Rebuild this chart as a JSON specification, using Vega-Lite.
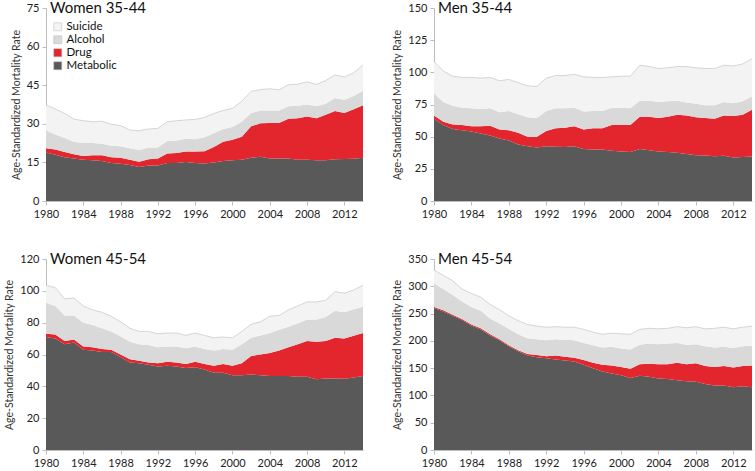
{
  "$schema": "https://vega.github.io/schema/vega-lite/v6.json",
  "background": "white",
  "padding": {"left": 4, "top": 1, "right": 0, "bottom": 0},
  "config": {
    "font": "Lato",
    "view": {"stroke": null},
    "axis": {"grid": false, "domainColor": "#bdbdbd", "tickColor": "#bdbdbd", "tickSize": 4, "labelFontSize": 11, "labelColor": "#222", "labelPadding": 3, "labelOverlap": false, "labelFlush": false, "titleFontSize": 10.5, "titleFontWeight": "normal", "titleColor": "#333", "titlePadding": 5},
    "text": {"font": "Lato", "fontSize": 15, "color": "#111", "align": "left", "baseline": "middle", "dx": 4}
  },
  "datasets": {
    "causes": [
      {"cause": "Metabolic", "rank": 1},
      {"cause": "Drug", "rank": 2},
      {"cause": "Alcohol", "rank": 3},
      {"cause": "Suicide", "rank": 4}
    ],
    "rates": [
      {"p":"W35","year":1980,"Metabolic":18.8,"Drug":1.7,"Alcohol":7.0,"Suicide":9.8},
      {"p":"W35","year":1981,"Metabolic":18.0,"Drug":2.0,"Alcohol":5.8,"Suicide":10.0},
      {"p":"W35","year":1982,"Metabolic":17.0,"Drug":2.0,"Alcohol":5.5,"Suicide":9.5},
      {"p":"W35","year":1983,"Metabolic":16.5,"Drug":1.7,"Alcohol":4.8,"Suicide":8.8},
      {"p":"W35","year":1984,"Metabolic":16.0,"Drug":1.5,"Alcohol":5.0,"Suicide":8.7},
      {"p":"W35","year":1985,"Metabolic":15.8,"Drug":2.0,"Alcohol":4.7,"Suicide":8.3},
      {"p":"W35","year":1986,"Metabolic":15.5,"Drug":2.3,"Alcohol":4.4,"Suicide":8.8},
      {"p":"W35","year":1987,"Metabolic":14.8,"Drug":2.2,"Alcohol":4.5,"Suicide":8.3},
      {"p":"W35","year":1988,"Metabolic":14.5,"Drug":2.3,"Alcohol":4.5,"Suicide":8.0},
      {"p":"W35","year":1989,"Metabolic":14.0,"Drug":2.0,"Alcohol":4.5,"Suicide":7.1},
      {"p":"W35","year":1990,"Metabolic":13.2,"Drug":2.1,"Alcohol":4.5,"Suicide":7.5},
      {"p":"W35","year":1991,"Metabolic":13.8,"Drug":2.4,"Alcohol":4.6,"Suicide":7.2},
      {"p":"W35","year":1992,"Metabolic":13.8,"Drug":2.7,"Alcohol":4.3,"Suicide":7.4},
      {"p":"W35","year":1993,"Metabolic":14.8,"Drug":3.7,"Alcohol":4.8,"Suicide":7.5},
      {"p":"W35","year":1994,"Metabolic":14.8,"Drug":3.9,"Alcohol":4.8,"Suicide":7.7},
      {"p":"W35","year":1995,"Metabolic":15.2,"Drug":4.0,"Alcohol":5.0,"Suicide":7.3},
      {"p":"W35","year":1996,"Metabolic":14.8,"Drug":4.4,"Alcohol":4.8,"Suicide":7.7},
      {"p":"W35","year":1997,"Metabolic":14.6,"Drug":4.7,"Alcohol":5.5,"Suicide":7.7},
      {"p":"W35","year":1998,"Metabolic":15.0,"Drug":6.0,"Alcohol":5.3,"Suicide":7.7},
      {"p":"W35","year":1999,"Metabolic":15.5,"Drug":7.5,"Alcohol":5.0,"Suicide":7.2},
      {"p":"W35","year":2000,"Metabolic":15.8,"Drug":8.0,"Alcohol":5.0,"Suicide":7.2},
      {"p":"W35","year":2001,"Metabolic":16.0,"Drug":9.0,"Alcohol":5.8,"Suicide":8.0},
      {"p":"W35","year":2002,"Metabolic":16.8,"Drug":12.2,"Alcohol":5.2,"Suicide":8.4},
      {"p":"W35","year":2003,"Metabolic":17.2,"Drug":13.0,"Alcohol":5.0,"Suicide":8.1},
      {"p":"W35","year":2004,"Metabolic":16.5,"Drug":13.8,"Alcohol":4.9,"Suicide":8.4},
      {"p":"W35","year":2005,"Metabolic":16.5,"Drug":13.8,"Alcohol":4.9,"Suicide":8.0},
      {"p":"W35","year":2006,"Metabolic":16.5,"Drug":15.5,"Alcohol":4.8,"Suicide":8.4},
      {"p":"W35","year":2007,"Metabolic":16.0,"Drug":16.2,"Alcohol":4.8,"Suicide":8.4},
      {"p":"W35","year":2008,"Metabolic":16.0,"Drug":16.8,"Alcohol":4.7,"Suicide":8.8},
      {"p":"W35","year":2009,"Metabolic":15.8,"Drug":16.4,"Alcohol":4.6,"Suicide":8.5},
      {"p":"W35","year":2010,"Metabolic":15.8,"Drug":17.7,"Alcohol":4.3,"Suicide":9.0},
      {"p":"W35","year":2011,"Metabolic":16.2,"Drug":18.8,"Alcohol":5.0,"Suicide":9.0},
      {"p":"W35","year":2012,"Metabolic":16.3,"Drug":17.9,"Alcohol":5.1,"Suicide":8.9},
      {"p":"W35","year":2013,"Metabolic":16.4,"Drug":19.3,"Alcohol":5.1,"Suicide":9.0},
      {"p":"W35","year":2014,"Metabolic":16.8,"Drug":20.4,"Alcohol":5.6,"Suicide":10.0},
      {"p":"M35","year":1980,"Metabolic":64.0,"Drug":2.5,"Alcohol":17.0,"Suicide":25.0},
      {"p":"M35","year":1981,"Metabolic":59.0,"Drug":2.5,"Alcohol":15.5,"Suicide":24.0},
      {"p":"M35","year":1982,"Metabolic":56.0,"Drug":3.5,"Alcohol":14.5,"Suicide":23.0},
      {"p":"M35","year":1983,"Metabolic":55.0,"Drug":4.0,"Alcohol":13.5,"Suicide":23.5},
      {"p":"M35","year":1984,"Metabolic":54.0,"Drug":4.0,"Alcohol":14.0,"Suicide":24.0},
      {"p":"M35","year":1985,"Metabolic":52.5,"Drug":5.5,"Alcohol":13.5,"Suicide":24.0},
      {"p":"M35","year":1986,"Metabolic":51.0,"Drug":7.5,"Alcohol":13.5,"Suicide":24.0},
      {"p":"M35","year":1987,"Metabolic":48.5,"Drug":7.0,"Alcohol":13.5,"Suicide":24.5},
      {"p":"M35","year":1988,"Metabolic":47.0,"Drug":8.0,"Alcohol":15.0,"Suicide":24.5},
      {"p":"M35","year":1989,"Metabolic":44.0,"Drug":9.0,"Alcohol":14.5,"Suicide":24.5},
      {"p":"M35","year":1990,"Metabolic":42.5,"Drug":7.5,"Alcohol":15.0,"Suicide":24.5},
      {"p":"M35","year":1991,"Metabolic":41.5,"Drug":8.5,"Alcohol":14.5,"Suicide":24.5},
      {"p":"M35","year":1992,"Metabolic":42.5,"Drug":12.0,"Alcohol":15.5,"Suicide":25.5},
      {"p":"M35","year":1993,"Metabolic":42.2,"Drug":14.3,"Alcohol":15.5,"Suicide":25.5},
      {"p":"M35","year":1994,"Metabolic":42.0,"Drug":15.0,"Alcohol":15.0,"Suicide":25.5},
      {"p":"M35","year":1995,"Metabolic":42.5,"Drug":15.5,"Alcohol":14.5,"Suicide":26.0},
      {"p":"M35","year":1996,"Metabolic":40.5,"Drug":15.0,"Alcohol":14.0,"Suicide":27.0},
      {"p":"M35","year":1997,"Metabolic":40.0,"Drug":16.5,"Alcohol":13.5,"Suicide":26.0},
      {"p":"M35","year":1998,"Metabolic":40.0,"Drug":16.5,"Alcohol":13.5,"Suicide":26.0},
      {"p":"M35","year":1999,"Metabolic":39.0,"Drug":20.0,"Alcohol":13.5,"Suicide":24.0},
      {"p":"M35","year":2000,"Metabolic":38.5,"Drug":20.5,"Alcohol":13.5,"Suicide":24.5},
      {"p":"M35","year":2001,"Metabolic":38.0,"Drug":21.0,"Alcohol":13.0,"Suicide":25.0},
      {"p":"M35","year":2002,"Metabolic":40.5,"Drug":25.0,"Alcohol":12.5,"Suicide":27.5},
      {"p":"M35","year":2003,"Metabolic":39.5,"Drug":26.0,"Alcohol":12.5,"Suicide":26.5},
      {"p":"M35","year":2004,"Metabolic":38.5,"Drug":26.0,"Alcohol":12.5,"Suicide":26.0},
      {"p":"M35","year":2005,"Metabolic":38.0,"Drug":27.5,"Alcohol":12.0,"Suicide":26.0},
      {"p":"M35","year":2006,"Metabolic":37.5,"Drug":29.5,"Alcohol":11.0,"Suicide":26.5},
      {"p":"M35","year":2007,"Metabolic":36.5,"Drug":30.0,"Alcohol":10.0,"Suicide":28.0},
      {"p":"M35","year":2008,"Metabolic":35.5,"Drug":29.5,"Alcohol":10.5,"Suicide":28.0},
      {"p":"M35","year":2009,"Metabolic":35.3,"Drug":29.2,"Alcohol":10.0,"Suicide":28.5},
      {"p":"M35","year":2010,"Metabolic":34.8,"Drug":29.2,"Alcohol":10.5,"Suicide":28.5},
      {"p":"M35","year":2011,"Metabolic":35.2,"Drug":31.3,"Alcohol":10.5,"Suicide":28.5},
      {"p":"M35","year":2012,"Metabolic":33.8,"Drug":32.2,"Alcohol":10.0,"Suicide":29.0},
      {"p":"M35","year":2013,"Metabolic":34.2,"Drug":32.8,"Alcohol":10.5,"Suicide":29.0},
      {"p":"M35","year":2014,"Metabolic":34.5,"Drug":36.5,"Alcohol":10.5,"Suicide":29.0},
      {"p":"W45","year":1980,"Metabolic":71.0,"Drug":2.0,"Alcohol":19.5,"Suicide":11.0},
      {"p":"W45","year":1981,"Metabolic":70.0,"Drug":2.5,"Alcohol":18.0,"Suicide":11.5},
      {"p":"W45","year":1982,"Metabolic":66.5,"Drug":2.0,"Alcohol":16.0,"Suicide":10.5},
      {"p":"W45","year":1983,"Metabolic":67.5,"Drug":2.0,"Alcohol":15.0,"Suicide":11.0},
      {"p":"W45","year":1984,"Metabolic":63.0,"Drug":2.0,"Alcohol":15.0,"Suicide":10.5},
      {"p":"W45","year":1985,"Metabolic":62.5,"Drug":2.0,"Alcohol":14.0,"Suicide":9.5},
      {"p":"W45","year":1986,"Metabolic":61.5,"Drug":2.0,"Alcohol":13.0,"Suicide":10.0},
      {"p":"W45","year":1987,"Metabolic":61.5,"Drug":1.5,"Alcohol":11.5,"Suicide":9.5},
      {"p":"W45","year":1988,"Metabolic":58.5,"Drug":1.5,"Alcohol":11.5,"Suicide":9.0},
      {"p":"W45","year":1989,"Metabolic":55.0,"Drug":2.0,"Alcohol":11.0,"Suicide":8.5},
      {"p":"W45","year":1990,"Metabolic":54.5,"Drug":1.5,"Alcohol":10.5,"Suicide":8.0},
      {"p":"W45","year":1991,"Metabolic":53.5,"Drug":1.5,"Alcohol":11.0,"Suicide":8.5},
      {"p":"W45","year":1992,"Metabolic":52.5,"Drug":2.0,"Alcohol":10.0,"Suicide":8.5},
      {"p":"W45","year":1993,"Metabolic":53.0,"Drug":2.5,"Alcohol":9.5,"Suicide":8.5},
      {"p":"W45","year":1994,"Metabolic":52.5,"Drug":2.5,"Alcohol":10.0,"Suicide":8.5},
      {"p":"W45","year":1995,"Metabolic":51.5,"Drug":2.5,"Alcohol":10.0,"Suicide":8.0},
      {"p":"W45","year":1996,"Metabolic":52.0,"Drug":3.5,"Alcohol":9.5,"Suicide":8.5},
      {"p":"W45","year":1997,"Metabolic":50.5,"Drug":3.5,"Alcohol":9.5,"Suicide":8.5},
      {"p":"W45","year":1998,"Metabolic":48.5,"Drug":4.5,"Alcohol":9.5,"Suicide":8.0},
      {"p":"W45","year":1999,"Metabolic":48.5,"Drug":5.5,"Alcohol":9.5,"Suicide":7.5},
      {"p":"W45","year":2000,"Metabolic":47.0,"Drug":6.0,"Alcohol":10.0,"Suicide":7.5},
      {"p":"W45","year":2001,"Metabolic":47.0,"Drug":7.5,"Alcohol":12.0,"Suicide":8.0},
      {"p":"W45","year":2002,"Metabolic":47.5,"Drug":11.5,"Alcohol":11.5,"Suicide":8.5},
      {"p":"W45","year":2003,"Metabolic":47.0,"Drug":13.0,"Alcohol":12.0,"Suicide":8.5},
      {"p":"W45","year":2004,"Metabolic":46.5,"Drug":14.5,"Alcohol":12.5,"Suicide":10.5},
      {"p":"W45","year":2005,"Metabolic":46.5,"Drug":16.0,"Alcohol":13.0,"Suicide":9.0},
      {"p":"W45","year":2006,"Metabolic":46.5,"Drug":18.0,"Alcohol":13.0,"Suicide":10.5},
      {"p":"W45","year":2007,"Metabolic":46.0,"Drug":20.5,"Alcohol":13.0,"Suicide":11.0},
      {"p":"W45","year":2008,"Metabolic":46.0,"Drug":22.5,"Alcohol":13.5,"Suicide":11.0},
      {"p":"W45","year":2009,"Metabolic":44.5,"Drug":23.5,"Alcohol":14.0,"Suicide":11.0},
      {"p":"W45","year":2010,"Metabolic":45.0,"Drug":23.5,"Alcohol":15.0,"Suicide":10.5},
      {"p":"W45","year":2011,"Metabolic":45.0,"Drug":25.5,"Alcohol":17.0,"Suicide":12.0},
      {"p":"W45","year":2012,"Metabolic":44.8,"Drug":25.2,"Alcohol":16.5,"Suicide":12.0},
      {"p":"W45","year":2013,"Metabolic":45.5,"Drug":26.3,"Alcohol":16.7,"Suicide":12.0},
      {"p":"W45","year":2014,"Metabolic":46.5,"Drug":27.0,"Alcohol":16.5,"Suicide":13.5},
      {"p":"M45","year":1980,"Metabolic":260,"Drug":2,"Alcohol":43,"Suicide":25},
      {"p":"M45","year":1981,"Metabolic":254,"Drug":2,"Alcohol":39,"Suicide":25},
      {"p":"M45","year":1982,"Metabolic":246,"Drug":2,"Alcohol":36,"Suicide":26},
      {"p":"M45","year":1983,"Metabolic":238,"Drug":2,"Alcohol":32,"Suicide":23},
      {"p":"M45","year":1984,"Metabolic":228,"Drug":2,"Alcohol":32,"Suicide":25},
      {"p":"M45","year":1985,"Metabolic":221,"Drug":2,"Alcohol":32,"Suicide":25},
      {"p":"M45","year":1986,"Metabolic":210,"Drug":2,"Alcohol":29,"Suicide":26},
      {"p":"M45","year":1987,"Metabolic":201,"Drug":2,"Alcohol":29,"Suicide":25},
      {"p":"M45","year":1988,"Metabolic":190,"Drug":2,"Alcohol":30,"Suicide":24},
      {"p":"M45","year":1989,"Metabolic":181,"Drug":2,"Alcohol":29,"Suicide":25},
      {"p":"M45","year":1990,"Metabolic":173,"Drug":3,"Alcohol":29,"Suicide":25},
      {"p":"M45","year":1991,"Metabolic":170,"Drug":4,"Alcohol":29,"Suicide":24},
      {"p":"M45","year":1992,"Metabolic":168,"Drug":4,"Alcohol":29,"Suicide":24},
      {"p":"M45","year":1993,"Metabolic":166,"Drug":7,"Alcohol":30,"Suicide":23},
      {"p":"M45","year":1994,"Metabolic":164,"Drug":7,"Alcohol":31,"Suicide":23},
      {"p":"M45","year":1995,"Metabolic":162,"Drug":7,"Alcohol":32,"Suicide":24},
      {"p":"M45","year":1996,"Metabolic":156,"Drug":9,"Alcohol":31,"Suicide":25},
      {"p":"M45","year":1997,"Metabolic":150,"Drug":10,"Alcohol":32,"Suicide":24},
      {"p":"M45","year":1998,"Metabolic":144,"Drug":12,"Alcohol":32,"Suicide":24},
      {"p":"M45","year":1999,"Metabolic":140,"Drug":15,"Alcohol":34,"Suicide":25},
      {"p":"M45","year":2000,"Metabolic":137,"Drug":15,"Alcohol":34,"Suicide":27},
      {"p":"M45","year":2001,"Metabolic":132,"Drug":17,"Alcohol":35,"Suicide":28},
      {"p":"M45","year":2002,"Metabolic":136,"Drug":21,"Alcohol":36,"Suicide":28},
      {"p":"M45","year":2003,"Metabolic":134,"Drug":24,"Alcohol":37,"Suicide":28},
      {"p":"M45","year":2004,"Metabolic":131,"Drug":26,"Alcohol":37,"Suicide":28},
      {"p":"M45","year":2005,"Metabolic":130,"Drug":27,"Alcohol":38,"Suicide":28},
      {"p":"M45","year":2006,"Metabolic":128,"Drug":32,"Alcohol":36,"Suicide":30},
      {"p":"M45","year":2007,"Metabolic":126,"Drug":31,"Alcohol":36,"Suicide":31},
      {"p":"M45","year":2008,"Metabolic":125,"Drug":34,"Alcohol":35,"Suicide":32},
      {"p":"M45","year":2009,"Metabolic":121,"Drug":33,"Alcohol":36,"Suicide":32},
      {"p":"M45","year":2010,"Metabolic":118,"Drug":34,"Alcohol":36,"Suicide":35},
      {"p":"M45","year":2011,"Metabolic":118,"Drug":36,"Alcohol":35,"Suicide":36},
      {"p":"M45","year":2012,"Metabolic":115,"Drug":36,"Alcohol":36,"Suicide":35},
      {"p":"M45","year":2013,"Metabolic":117,"Drug":37,"Alcohol":36,"Suicide":35},
      {"p":"M45","year":2014,"Metabolic":115,"Drug":40,"Alcohol":36,"Suicide":36}
    ]
  },
  "resolve": {"scale": {"color": "independent"}},
  "columns": 2,
  "align": "each",
  "spacing": {"row": 33, "column": 27},
  "concat": [
    {
      "width": 317, "height": 193,
      "layer": [
        {"data": {"name": "rates"},
         "transform": [{"filter": {"field": "p", "equal": "W35"}}, {"fold": ["Metabolic", "Drug", "Alcohol", "Suicide"], "as": ["cause", "rate"]}, {"lookup": "cause", "from": {"data": {"name": "causes"}, "key": "cause", "fields": ["rank"]}}],
         "mark": {"type": "area"},
         "encoding": {
           "x": {"field": "year", "type": "quantitative", "scale": {"domain": [1980, 2014], "nice": false, "zero": false}, "axis": {"values": [1980, 1984, 1988, 1992, 1996, 2000, 2004, 2008, 2012], "format": "d", "title": null, "labelOverlap": false}},
           "y": {"field": "rate", "type": "quantitative", "stack": "zero", "scale": {"domain": [0, 75], "nice": false}, "axis": {"values": [0, 15, 30, 45, 60, 75], "title": "Age-Standardized Mortality Rate", "labelOverlap": false}},
           "order": {"field": "rank", "type": "quantitative"},
           "color": {"field": "cause", "type": "nominal", "sort": ["Suicide", "Alcohol", "Drug", "Metabolic"], "scale": {"domain": ["Suicide", "Alcohol", "Drug", "Metabolic"], "range": ["#f3f3f3", "#d9d9d9", "#e3262d", "#595959"]},
             "legend": {"title": null, "orient": "none", "legendX": 6, "legendY": 13, "symbolType": "square", "symbolSize": 64, "symbolStrokeColor": "#bbb", "symbolStrokeWidth": 0.5, "labelFontSize": 11.5, "labelColor": "#111", "labelOffset": 3, "rowPadding": 0}}
         }},
        {"data": {"name": "rates"},
         "transform": [{"filter": {"field": "p", "equal": "W35"}}, {"fold": ["Metabolic", "Drug", "Alcohol", "Suicide"], "as": ["cause", "rate"]}],
         "mark": {"type": "line", "color": "#cccccc", "strokeWidth": 0.8},
         "encoding": {
           "x": {"field": "year", "type": "quantitative", "scale": {"domain": [1980, 2014], "nice": false, "zero": false}, "axis": {"values": [1980, 1984, 1988, 1992, 1996, 2000, 2004, 2008, 2012], "format": "d", "title": null, "labelOverlap": false}},
           "y": {"aggregate": "sum", "field": "rate", "type": "quantitative", "scale": {"domain": [0, 75], "nice": false}, "axis": {"values": [0, 15, 30, 45, 60, 75], "title": "Age-Standardized Mortality Rate", "labelOverlap": false}}}},
        {"data": {"values": [{"panel": "Women 35-44"}]},
         "mark": {"type": "text"},
         "encoding": {
           "x": {"datum": 1980, "type": "quantitative", "scale": {"domain": [1980, 2014], "nice": false, "zero": false}, "axis": {"values": [1980, 1984, 1988, 1992, 1996, 2000, 2004, 2008, 2012], "format": "d", "title": null, "labelOverlap": false}},
           "y": {"datum": 75, "type": "quantitative", "scale": {"domain": [0, 75], "nice": false}, "axis": {"values": [0, 15, 30, 45, 60, 75], "title": "Age-Standardized Mortality Rate", "labelOverlap": false}},
           "text": {"field": "panel"}}}
      ]
    },
    {
      "width": 318, "height": 193,
      "layer": [
        {"data": {"name": "rates"},
         "transform": [{"filter": {"field": "p", "equal": "M35"}}, {"fold": ["Metabolic", "Drug", "Alcohol", "Suicide"], "as": ["cause", "rate"]}, {"lookup": "cause", "from": {"data": {"name": "causes"}, "key": "cause", "fields": ["rank"]}}],
         "mark": {"type": "area"},
         "encoding": {
           "x": {"field": "year", "type": "quantitative", "scale": {"domain": [1980, 2014], "nice": false, "zero": false}, "axis": {"values": [1980, 1984, 1988, 1992, 1996, 2000, 2004, 2008, 2012], "format": "d", "title": null, "labelOverlap": false}},
           "y": {"field": "rate", "type": "quantitative", "stack": "zero", "scale": {"domain": [0, 150], "nice": false}, "axis": {"values": [0, 25, 50, 75, 100, 125, 150], "title": "Age-Standardized Mortality Rate", "labelOverlap": false}},
           "order": {"field": "rank", "type": "quantitative"},
           "color": {"field": "cause", "type": "nominal", "sort": ["Suicide", "Alcohol", "Drug", "Metabolic"], "scale": {"domain": ["Suicide", "Alcohol", "Drug", "Metabolic"], "range": ["#f3f3f3", "#d9d9d9", "#e3262d", "#595959"]}, "legend": null}
         }},
        {"data": {"name": "rates"},
         "transform": [{"filter": {"field": "p", "equal": "M35"}}, {"fold": ["Metabolic", "Drug", "Alcohol", "Suicide"], "as": ["cause", "rate"]}],
         "mark": {"type": "line", "color": "#cccccc", "strokeWidth": 0.8},
         "encoding": {
           "x": {"field": "year", "type": "quantitative", "scale": {"domain": [1980, 2014], "nice": false, "zero": false}, "axis": {"values": [1980, 1984, 1988, 1992, 1996, 2000, 2004, 2008, 2012], "format": "d", "title": null, "labelOverlap": false}},
           "y": {"aggregate": "sum", "field": "rate", "type": "quantitative", "scale": {"domain": [0, 150], "nice": false}, "axis": {"values": [0, 25, 50, 75, 100, 125, 150], "title": "Age-Standardized Mortality Rate", "labelOverlap": false}}}},
        {"data": {"values": [{"panel": "Men 35-44"}]},
         "mark": {"type": "text"},
         "encoding": {
           "x": {"datum": 1980, "type": "quantitative", "scale": {"domain": [1980, 2014], "nice": false, "zero": false}, "axis": {"values": [1980, 1984, 1988, 1992, 1996, 2000, 2004, 2008, 2012], "format": "d", "title": null, "labelOverlap": false}},
           "y": {"datum": 150, "type": "quantitative", "scale": {"domain": [0, 150], "nice": false}, "axis": {"values": [0, 25, 50, 75, 100, 125, 150], "title": "Age-Standardized Mortality Rate", "labelOverlap": false}},
           "text": {"field": "panel"}}}
      ]
    },
    {
      "width": 317, "height": 191,
      "layer": [
        {"data": {"name": "rates"},
         "transform": [{"filter": {"field": "p", "equal": "W45"}}, {"fold": ["Metabolic", "Drug", "Alcohol", "Suicide"], "as": ["cause", "rate"]}, {"lookup": "cause", "from": {"data": {"name": "causes"}, "key": "cause", "fields": ["rank"]}}],
         "mark": {"type": "area"},
         "encoding": {
           "x": {"field": "year", "type": "quantitative", "scale": {"domain": [1980, 2014], "nice": false, "zero": false}, "axis": {"values": [1980, 1984, 1988, 1992, 1996, 2000, 2004, 2008, 2012], "format": "d", "title": null, "labelOverlap": false}},
           "y": {"field": "rate", "type": "quantitative", "stack": "zero", "scale": {"domain": [0, 120], "nice": false}, "axis": {"values": [0, 20, 40, 60, 80, 100, 120], "title": "Age-Standardized Mortality Rate", "labelOverlap": false}},
           "order": {"field": "rank", "type": "quantitative"},
           "color": {"field": "cause", "type": "nominal", "sort": ["Suicide", "Alcohol", "Drug", "Metabolic"], "scale": {"domain": ["Suicide", "Alcohol", "Drug", "Metabolic"], "range": ["#f3f3f3", "#d9d9d9", "#e3262d", "#595959"]}, "legend": null}
         }},
        {"data": {"name": "rates"},
         "transform": [{"filter": {"field": "p", "equal": "W45"}}, {"fold": ["Metabolic", "Drug", "Alcohol", "Suicide"], "as": ["cause", "rate"]}],
         "mark": {"type": "line", "color": "#cccccc", "strokeWidth": 0.8},
         "encoding": {
           "x": {"field": "year", "type": "quantitative", "scale": {"domain": [1980, 2014], "nice": false, "zero": false}, "axis": {"values": [1980, 1984, 1988, 1992, 1996, 2000, 2004, 2008, 2012], "format": "d", "title": null, "labelOverlap": false}},
           "y": {"aggregate": "sum", "field": "rate", "type": "quantitative", "scale": {"domain": [0, 120], "nice": false}, "axis": {"values": [0, 20, 40, 60, 80, 100, 120], "title": "Age-Standardized Mortality Rate", "labelOverlap": false}}}},
        {"data": {"values": [{"panel": "Women 45-54"}]},
         "mark": {"type": "text"},
         "encoding": {
           "x": {"datum": 1980, "type": "quantitative", "scale": {"domain": [1980, 2014], "nice": false, "zero": false}, "axis": {"values": [1980, 1984, 1988, 1992, 1996, 2000, 2004, 2008, 2012], "format": "d", "title": null, "labelOverlap": false}},
           "y": {"datum": 120, "type": "quantitative", "scale": {"domain": [0, 120], "nice": false}, "axis": {"values": [0, 20, 40, 60, 80, 100, 120], "title": "Age-Standardized Mortality Rate", "labelOverlap": false}},
           "text": {"field": "panel"}}}
      ]
    },
    {
      "width": 318, "height": 191,
      "layer": [
        {"data": {"name": "rates"},
         "transform": [{"filter": {"field": "p", "equal": "M45"}}, {"fold": ["Metabolic", "Drug", "Alcohol", "Suicide"], "as": ["cause", "rate"]}, {"lookup": "cause", "from": {"data": {"name": "causes"}, "key": "cause", "fields": ["rank"]}}],
         "mark": {"type": "area"},
         "encoding": {
           "x": {"field": "year", "type": "quantitative", "scale": {"domain": [1980, 2014], "nice": false, "zero": false}, "axis": {"values": [1980, 1984, 1988, 1992, 1996, 2000, 2004, 2008, 2012], "format": "d", "title": null, "labelOverlap": false}},
           "y": {"field": "rate", "type": "quantitative", "stack": "zero", "scale": {"domain": [0, 350], "nice": false}, "axis": {"values": [0, 50, 100, 150, 200, 250, 300, 350], "title": "Age-Standardized Mortality Rate", "labelOverlap": false}},
           "order": {"field": "rank", "type": "quantitative"},
           "color": {"field": "cause", "type": "nominal", "sort": ["Suicide", "Alcohol", "Drug", "Metabolic"], "scale": {"domain": ["Suicide", "Alcohol", "Drug", "Metabolic"], "range": ["#f3f3f3", "#d9d9d9", "#e3262d", "#595959"]}, "legend": null}
         }},
        {"data": {"name": "rates"},
         "transform": [{"filter": {"field": "p", "equal": "M45"}}, {"fold": ["Metabolic", "Drug", "Alcohol", "Suicide"], "as": ["cause", "rate"]}],
         "mark": {"type": "line", "color": "#cccccc", "strokeWidth": 0.8},
         "encoding": {
           "x": {"field": "year", "type": "quantitative", "scale": {"domain": [1980, 2014], "nice": false, "zero": false}, "axis": {"values": [1980, 1984, 1988, 1992, 1996, 2000, 2004, 2008, 2012], "format": "d", "title": null, "labelOverlap": false}},
           "y": {"aggregate": "sum", "field": "rate", "type": "quantitative", "scale": {"domain": [0, 350], "nice": false}, "axis": {"values": [0, 50, 100, 150, 200, 250, 300, 350], "title": "Age-Standardized Mortality Rate", "labelOverlap": false}}}},
        {"data": {"values": [{"panel": "Men 45-54"}]},
         "mark": {"type": "text"},
         "encoding": {
           "x": {"datum": 1980, "type": "quantitative", "scale": {"domain": [1980, 2014], "nice": false, "zero": false}, "axis": {"values": [1980, 1984, 1988, 1992, 1996, 2000, 2004, 2008, 2012], "format": "d", "title": null, "labelOverlap": false}},
           "y": {"datum": 350, "type": "quantitative", "scale": {"domain": [0, 350], "nice": false}, "axis": {"values": [0, 50, 100, 150, 200, 250, 300, 350], "title": "Age-Standardized Mortality Rate", "labelOverlap": false}},
           "text": {"field": "panel"}}}
      ]
    }
  ]
}
